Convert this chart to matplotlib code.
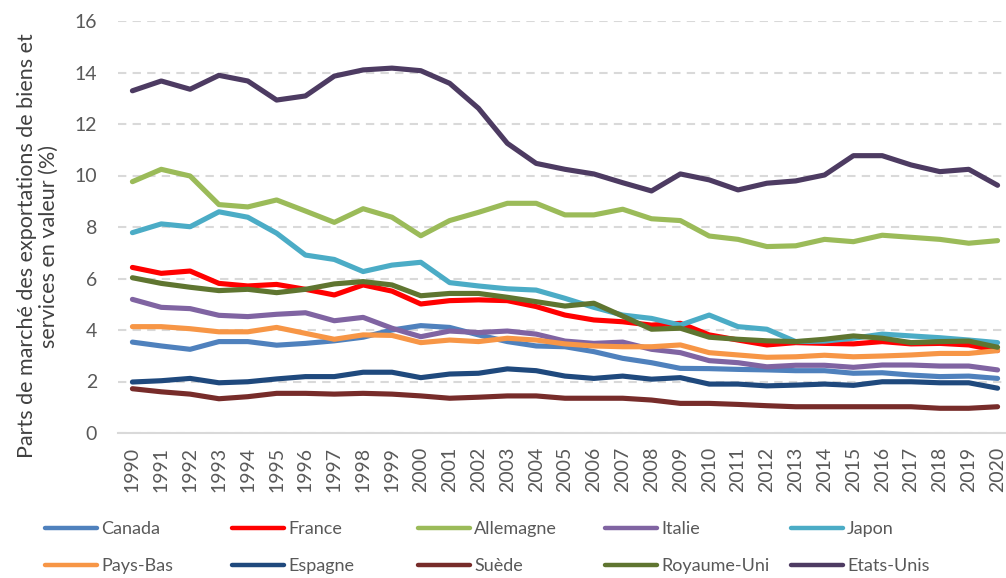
import matplotlib
matplotlib.use("Agg")
from matplotlib import pyplot as plt

plt.rcParams['font.family'] = ['Lato', 'DejaVu Sans']

years = list(range(1990, 2021))

canada = [3.53, 3.38, 3.25, 3.55, 3.55, 3.41, 3.48, 3.58, 3.72, 4.00,
          4.17, 4.10, 3.81, 3.55, 3.38, 3.35, 3.16, 2.90, 2.73, 2.51,
          2.50, 2.47, 2.45, 2.42, 2.42, 2.32, 2.34, 2.25, 2.19, 2.21, 2.12]
france = [6.43, 6.20, 6.29, 5.81, 5.71, 5.77, 5.58, 5.36, 5.75, 5.51,
          5.01, 5.14, 5.17, 5.14, 4.91, 4.58, 4.39, 4.32, 4.19, 4.26,
          3.81, 3.61, 3.42, 3.51, 3.48, 3.46, 3.55, 3.46, 3.48, 3.42, 3.20]
allemagne = [9.76, 10.24, 9.98, 8.87, 8.78, 9.05, 8.62, 8.18, 8.71, 8.38,
             7.66, 8.25, 8.57, 8.92, 8.92, 8.47, 8.47, 8.69, 8.32, 8.25,
             7.65, 7.52, 7.24, 7.27, 7.52, 7.43, 7.68, 7.60, 7.52, 7.37, 7.47]
italie = [5.19, 4.88, 4.83, 4.57, 4.52, 4.61, 4.67, 4.36, 4.49, 4.07,
          3.74, 3.96, 3.90, 3.96, 3.84, 3.57, 3.48, 3.53, 3.25, 3.12,
          2.81, 2.73, 2.57, 2.63, 2.63, 2.55, 2.64, 2.64, 2.60, 2.60, 2.45]
japon = [7.78, 8.12, 8.01, 8.59, 8.38, 7.76, 6.91, 6.74, 6.27, 6.52,
         6.63, 5.84, 5.71, 5.60, 5.55, 5.23, 4.88, 4.58, 4.45, 4.19,
         4.58, 4.13, 4.03, 3.55, 3.57, 3.68, 3.84, 3.77, 3.70, 3.61, 3.51]
pays_bas = [4.13, 4.13, 4.05, 3.93, 3.93, 4.10, 3.87, 3.64, 3.81, 3.79,
            3.51, 3.61, 3.55, 3.68, 3.61, 3.46, 3.38, 3.35, 3.35, 3.42,
            3.12, 3.03, 2.94, 2.96, 3.02, 2.96, 2.99, 3.03, 3.09, 3.09, 3.20]
espagne = [1.98, 2.03, 2.12, 1.95, 1.99, 2.10, 2.19, 2.19, 2.36, 2.36,
           2.15, 2.29, 2.32, 2.49, 2.42, 2.21, 2.12, 2.21, 2.09, 2.15,
           1.90, 1.90, 1.83, 1.86, 1.90, 1.85, 1.99, 1.99, 1.95, 1.95, 1.74]
suede = [1.72, 1.60, 1.51, 1.33, 1.41, 1.54, 1.54, 1.51, 1.54, 1.51,
         1.44, 1.35, 1.39, 1.44, 1.44, 1.35, 1.35, 1.35, 1.28, 1.15,
         1.15, 1.11, 1.06, 1.02, 1.02, 1.02, 1.02, 1.02, 0.96, 0.96, 1.02]
royaume_uni = [6.03, 5.81, 5.66, 5.53, 5.58, 5.45, 5.58, 5.79, 5.88, 5.75,
               5.33, 5.42, 5.42, 5.27, 5.10, 4.93, 5.04, 4.54, 4.03, 4.07,
               3.72, 3.64, 3.58, 3.55, 3.64, 3.77, 3.68, 3.51, 3.55, 3.57, 3.33]
etats_unis = [13.29, 13.67, 13.35, 13.89, 13.67, 12.93, 13.09, 13.86, 14.10, 14.17,
              14.07, 13.58, 12.61, 11.25, 10.47, 10.24, 10.06, 9.72, 9.40, 10.06,
              9.83, 9.44, 9.70, 9.79, 10.02, 10.77, 10.77, 10.41, 10.15, 10.24, 9.62]

names = ['Canada', 'France', 'Allemagne', 'Italie', 'Japon',
         'Pays-Bas', 'Espagne', 'Suède', 'Royaume-Uni', 'Etats-Unis']
series = [canada, france, allemagne, italie, japon,
          pays_bas, espagne, suede, royaume_uni, etats_unis]
colors = ['#4F81BD', '#FF0000', '#9BBB59', '#8064A2', '#4BACC6',
          '#F79646', '#1F497D', '#772C2A', '#5F7530', '#4D3B62']

fig = plt.figure(figsize=(10.06, 5.78), dpi=100)
ax = fig.add_axes([118 / 1006, 145 / 578, 894 / 1006, 412 / 578])

lines = []
for name, values, color in zip(names, series, colors):
    ln, = ax.plot(years, values, color=color, lw=3.7, label=name,
                  solid_joinstyle='round', solid_capstyle='round')
    lines.append(ln)

ax.set_xlim(1989.5, 2020.5)
ax.set_ylim(0, 16)
ax.set_yticks(range(0, 17, 2))
ax.set_xticks(years)
ax.set_xticklabels([str(y) for y in years], rotation=90)

ax.grid(axis='y', color='#D9D9D9', lw=1.5, linestyle=(0, (4, 3)))
ax.set_axisbelow(True)
for side in ['top', 'right', 'left']:
    ax.spines[side].set_visible(False)
ax.spines['bottom'].set_color('#D9D9D9')
ax.spines['bottom'].set_linewidth(1.5)
ax.tick_params(axis='both', length=0, labelsize=14, labelcolor='#595959')
ax.tick_params(axis='y', pad=15)
ax.tick_params(axis='x', pad=10)

fig.text(38 / 1006, 1 - 246 / 578,
         'Parts de marché des exportations de biens et\nservices en valeur (%)',
         rotation=90, ha='center', va='center', multialignment='center',
         fontsize=15.5, color='#404040', linespacing=1.12)

# one legend per column, rows read left to right like the original
col_x = [45, 232, 418, 605, 791]
for i, x in enumerate(col_x):
    leg = fig.legend([lines[i], lines[i + 5]], [names[i], names[i + 5]],
                     loc='center left', bbox_to_anchor=(x / 1006, 1 - 547.5 / 578),
                     frameon=False, fontsize=13, handlelength=2.9,
                     handletextpad=0.2, borderpad=0, borderaxespad=0,
                     labelspacing=1.15, labelcolor='#595959')
    for h in leg.get_lines():
        h.set_linewidth(3.2)
        h.set_solid_capstyle('round')

fig.savefig('out.png', dpi=100)
